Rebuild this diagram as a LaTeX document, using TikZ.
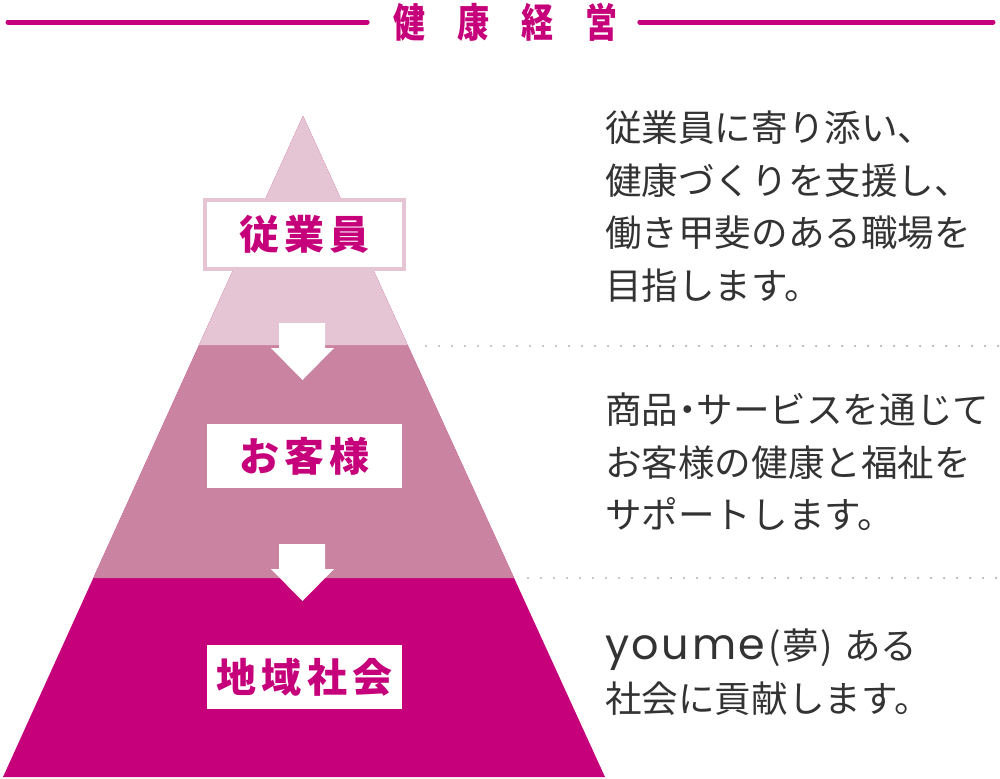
\documentclass[tikz,border=0pt]{standalone}
\usepackage{fontspec}
\setmainfont{Noto Sans CJK JP}
\newfontfamily\latinfont{Poppins}
\usetikzlibrary{positioning}

\definecolor{kmag}{RGB}{197,0,122}
\definecolor{kmid}{RGB}{202,131,160}
\definecolor{klight}{RGB}{229,196,211}
\definecolor{kgray}{RGB}{51,51,51}
\definecolor{kdot}{RGB}{180,180,180}

\tikzset{
  rule/.style={kmag,line width=0.125cm,line cap=round},
  dotrule/.style={kdot,line width=0.06cm,line cap=round,dash pattern=on 0pt off 0.325cm},
  tierlabel/.style={inner sep=0pt,text=kmag,font=\fontsize{28.45}{30}\selectfont\bfseries},
  empbox/.style={tierlabel,draw=klight,line width=0.1cm,fill=white,minimum width=4.975cm,minimum height=1.725cm},
  tierbox/.style={tierlabel,fill=white,minimum width=4.875cm,minimum height=1.6cm},
  desc/.style={anchor=west,align=left,inner sep=0pt,text=kgray,font=\fontsize{26}{37.3}\selectfont},
  downarrow/.style={fill=white}
}

\begin{document}
\begin{tikzpicture}[x=0.025cm,y=-0.025cm]
\useasboundingbox (0,0) rectangle (1000,778);

% title
\node[inner sep=0pt,text=kmag,font=\fontsize{28.45}{30}\selectfont\bfseries] (title) at (505.5,22)
  {\scalebox{0.8}[1]{健\kern1em 康\kern1em 経\kern1em 営}};
\coordinate (ruleL) at (8,22);
\coordinate (ruleR) at (993,22);
\draw[rule] (ruleL) -- ([xshift=-0.65cm]title.west);
\draw[rule] ([xshift=0.55cm]title.east) -- (ruleR);

% pyramid
\fill[kmag] (303,116) -- (3,777) -- (605,777) -- cycle;
\fill[kmid] (303,116) -- (93.3,578) -- (514.1,578) -- cycle;
\fill[klight] (303,116) -- (199.1,345) -- (407.6,345) -- cycle;

% arrows between tiers
\foreach \y in {323,544}
  \fill[downarrow] (279,\y) -- (325,\y) -- (325,\y+25) -- (334,\y+25)
    -- (302.5,\y+57) -- (271,\y+25) -- (279,\y+25) -- cycle;

% tier labels
\node[empbox] (emp) at (304.5,234.5) {従\kern.13em 業\kern.13em 員};
\node[tierbox] (cust) at (304.5,456) {お\kern.13em 客\kern.13em 様};
\node[tierbox] (comm) at (304.5,677) {地\kern.13em 域\kern.13em 社\kern.13em 会};

% dotted separators
\draw[dotrule] (426,346) -- (1000,346);
\draw[dotrule] (528,578) -- (1000,578);

% descriptions
\node[desc] (descemp) at (605,206.5) {従業員に寄り添い、\\健康づくりを支援し、\\働き甲斐のある職場を\\目指します。};
\node[desc] (desccust) at (605,462) {商品\kern-.25em・\kern-.25em サービスを通じて\\お客様の健康と福祉を\\サポートします。};
\node[desc] (desccomm) at (605,672) {{\latinfont\fontsize{30.5}{37.3}\selectfont y\kern.06em o\kern.06em u\kern.06em m\kern.06em e}\kern.08em(\kern.05em 夢\kern.05em)\kern.3em ある\\社会に貢献します。};
\end{tikzpicture}
\end{document}
